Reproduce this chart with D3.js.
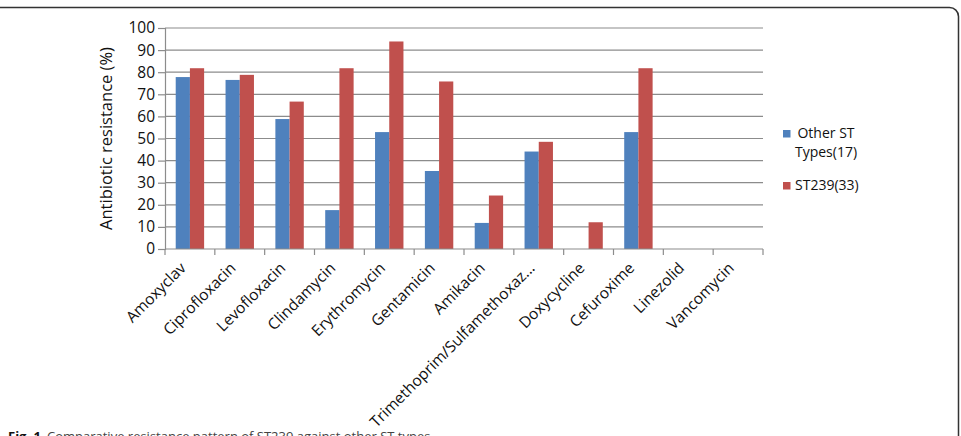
<!DOCTYPE html>
<html>
<head>
<meta charset="utf-8">
<script src="https://cdn.jsdelivr.net/npm/d3@7"></script>
<style>
  body { margin: 0; background: #fff; }
  svg { display: block; font-family: "Open Sans", sans-serif; }
</style>
</head>
<body>
<div id="chart"></div>
<script>
// data
var antibiotics = ["Amoxyclav", "Ciprofloxacin", "Levofloxacin", "Clindamycin", "Erythromycin",
  "Gentamicin", "Amikacin", "Trimethoprim/Sulfamethoxaz...", "Doxycycline", "Cefuroxime",
  "Linezolid", "Vancomycin"];
var otherST = [77.8, 76.5, 58.8, 17.6, 52.9, 35.3, 11.8, 44.1, 0, 52.9, 0, 0];
var st239 = [81.8, 78.8, 66.7, 81.8, 93.9, 75.8, 24.2, 48.5, 12.1, 81.8, 0, 0];
var seriesNames = ["Other ST Types(17)", "ST239(33)"];
var yTicks = [0, 10, 20, 30, 40, 50, 60, 70, 80, 90, 100];

var svgWidth = 961;
var svgHeight = 436;

var margin = { top: 28, left: 165, right: 198, bottom: 187 };
var width = svgWidth - margin.left - margin.right;
var height = svgHeight - margin.top - margin.bottom;

var blue = "#4f81bd";
var red = "#c0504d";
var gridColor = "#8c8c8c";
var labelSize = 15.5;

var svg = d3.select("#chart")
  .append("svg")
  .attr("width", svgWidth)
  .attr("height", svgHeight);

// outer frame of the figure
svg.append("rect")
  .attr("x", -10)
  .attr("y", 7.5)
  .attr("width", 968.5)
  .attr("height", 460)
  .attr("rx", 9)
  .attr("fill", "none")
  .attr("stroke", "#333")
  .attr("stroke-width", 1.5);

var chartGroup = svg.append("g")
  .attr("transform", `translate(${margin.left}, ${margin.top})`);

var x0 = d3.scaleBand()
  .domain(antibiotics)
  .range([0, width])
  .paddingInner(0.43)
  .paddingOuter(0.215);

var x1 = d3.scaleBand()
  .domain(seriesNames)
  .range([0, x0.bandwidth()]);

var yScale = d3.scaleLinear()
  .domain([0, 100])
  .range([height, 0]);

// gridlines
chartGroup.selectAll(".grid")
  .data(yTicks.filter(d => d > 0))
  .enter()
  .append("line")
  .attr("x1", 0)
  .attr("x2", width)
  .attr("y1", d => yScale(d))
  .attr("y2", d => yScale(d))
  .attr("stroke", gridColor)
  .attr("stroke-width", 1.2);

// bars
var rows = antibiotics.map((a, i) => ({ name: a, values: [otherST[i], st239[i]] }));
var groups = chartGroup.selectAll(".grp")
  .data(rows)
  .enter()
  .append("g")
  .attr("transform", d => `translate(${x0(d.name)},0)`);

groups.selectAll("rect")
  .data(d => d.values.map((v, j) => ({ key: seriesNames[j], value: v })))
  .enter()
  .append("rect")
  .attr("x", d => x1(d.key))
  .attr("y", d => yScale(d.value))
  .attr("width", x1.bandwidth())
  .attr("height", d => height - yScale(d.value))
  .attr("fill", (d, j) => j === 0 ? blue : red);

// y axis
var leftAxis = d3.axisLeft(yScale).tickValues(yTicks).tickSize(7).tickPadding(3);
var yAxisG = chartGroup.append("g").call(leftAxis);
yAxisG.attr("font-size", labelSize).attr("font-family", "Open Sans");
yAxisG.select(".domain").attr("stroke", gridColor).attr("stroke-width", 1.2);
yAxisG.selectAll(".tick line").attr("stroke", gridColor).attr("stroke-width", 1.2);
yAxisG.selectAll(".tick text").attr("fill", "#111");

// x axis: ticks sit on the category boundaries
var xBound = d3.scaleLinear().domain([0, antibiotics.length]).range([0, width]);
var xAxisG = chartGroup.append("g")
  .attr("transform", `translate(0, ${height})`);
xAxisG.append("line")
  .attr("x1", 0)
  .attr("x2", width)
  .attr("stroke", gridColor)
  .attr("stroke-width", 1.2);
xAxisG.selectAll(".xtick")
  .data(d3.range(antibiotics.length + 1))
  .enter()
  .append("line")
  .attr("x1", d => xBound(d))
  .attr("x2", d => xBound(d))
  .attr("y1", 0)
  .attr("y2", 6)
  .attr("stroke", gridColor)
  .attr("stroke-width", 1.2);

xAxisG.selectAll(".xlab")
  .data(antibiotics)
  .enter()
  .append("text")
  .attr("transform", d => `translate(${x0(d) + x0.bandwidth() / 2 - 3}, 20) rotate(-45)`)
  .attr("text-anchor", "end")
  .attr("font-size", labelSize)
  .attr("fill", "#111")
  .text(d => d);

// Y axis title
chartGroup.append("text")
  .attr("transform", "rotate(-90)")
  .attr("x", -height / 2)
  .attr("y", -53)
  .attr("text-anchor", "middle")
  .attr("font-size", 16.5)
  .attr("fill", "#111")
  .text("Antibiotic resistance (%)");

// legend
var legend = svg.append("g").attr("font-size", 14);
legend.append("rect")
  .attr("x", 783).attr("y", 130).attr("width", 7.5).attr("height", 7.5)
  .attr("fill", blue);
legend.append("text")
  .attr("x", 826).attr("y", 138)
  .attr("text-anchor", "middle")
  .attr("fill", "#111")
  .text("Other ST");
legend.append("text")
  .attr("x", 826).attr("y", 157)
  .attr("text-anchor", "middle")
  .attr("fill", "#111")
  .text("Types(17)");
legend.append("rect")
  .attr("x", 783).attr("y", 182).attr("width", 7.5).attr("height", 7.5)
  .attr("fill", red);
legend.append("text")
  .attr("x", 795).attr("y", 190)
  .attr("fill", "#111")
  .text("ST239(33)");

// caption, half cut off by the bottom edge as in the source image
var caption = svg.append("text")
  .attr("x", 8)
  .attr("y", 441)
  .attr("font-size", 13);
caption.append("tspan")
  .attr("font-weight", "bold")
  .attr("fill", "#111")
  .text("Fig. 1");
caption.append("tspan")
  .attr("dx", 6)
  .attr("fill", "#444")
  .text("Comparative resistance pattern of ST239 against other ST types");
</script>
</body>
</html>
